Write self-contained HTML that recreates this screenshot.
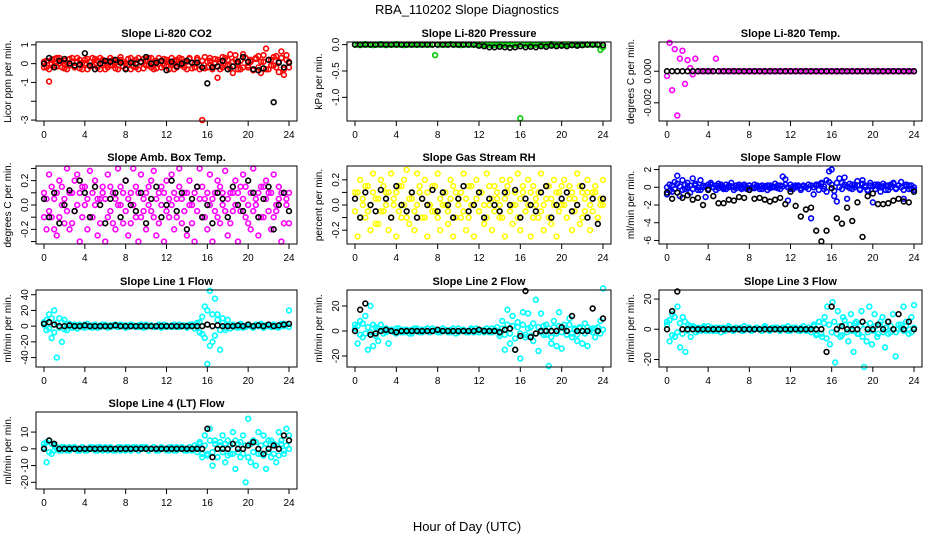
<!DOCTYPE html>
<html><head><meta charset="utf-8"><style>
html,body{margin:0;padding:0;background:#fff;}
svg{display:block;font-family:"Liberation Sans",Arial,sans-serif;}
</style></head><body>
<svg id="chart" width="936" height="540" viewBox="0 0 936 540">
<text x="467" y="14" text-anchor="middle" font-size="13">RBA_110202  Slope Diagnostics</text>
<text x="467" y="531" text-anchor="middle" font-size="13">Hour of Day (UTC)</text>
</svg>
<script>
// ---------- data ----------
const xTicks = [0,4,8,12,16,20,24];
const titles = ["Slope Li-820 CO2","Slope Li-820 Pressure","Slope Li-820 Temp.","Slope Amb. Box Temp.","Slope Gas Stream RH","Slope Sample Flow","Slope Line 1 Flow","Slope Line 2 Flow","Slope Line 3 Flow","Slope Line 4 (LT) Flow"];
const yTitles = ["Licor ppm per min.","kPa per min.","degrees C per min.","degrees C per min.","percent per min.","ml/min per min.","ml/min per min.","ml/min per min.","ml/min per min.","ml/min per min."];
const yTickVals = [[1,0,-1,-2,-3],[0,-0.5,-1.0],[0,-0.002],[0.3,0.2,0.1,0,-0.1,-0.2,-0.3],[0.2,0.1,0,-0.1,-0.2],[2,0,-2,-4,-6],[40,20,0,-20,-40],[20,0,-20],[20,0,-20],[10,0,-10,-20]];
const yTickLabels = [["1","0","-1","","-3"],["0.0","-0.5","-1.0"],["0.000","-0.002"],["","0.2","","0.0","","-0.2",""],["0.2","","0.0","","-0.2"],["2","0","-2","-4","-6"],["40","20","0","-20","-40"],["20","0","-20"],["20","0","-20"],["10","0","-10","-20"]];
const yMin = [-3.05,-1.45,-0.00315,-0.32,-0.31,-6.4,-52,-28.8,-25,-24];
const yMax = [1.15,0.05,0.00185,0.32,0.31,2.4,46,32.8,26,22];
const colors = ["#ff0000","#00cc00","#ff00ff","#ff00ff","#ffff00","#0000ff","#00ffff","#00ffff","#00ffff","#00ffff"];

const colCO2 = [0.1,-0.2,-0.95,0.2,-0.1,0.3,0.0,-0.2,0.15,-0.3,0.25,0.1,-0.15,0.3,-0.25,0.05,0.2,-0.3,0.1,-0.1,0.25,-0.2,0.3,0.0,-0.3,0.15,-0.1,0.2,-0.25,0.1,0.35,-0.15,0.0,0.25,-0.3,0.1,-0.2,0.3,0.05,-0.25,0.2,-0.1,0.3,-0.3,0.15,0.0,-0.2,0.25,-0.15,0.1,0.3,-0.3,0.2,-0.05,0.25,-0.2,0.1,0.3,-0.25,0.0,0.2,-0.3,-3.0,0.35,-0.2,0.15,-0.3,0.25,-0.75,0.1,-0.2,0.3,-0.1,0.5,-0.5,0.2,0.0,-0.3,0.5,0.3,-0.2,0.1,-0.35,0.25,0.4,-0.5,0.1,0.8,-0.3,0.2,-0.1,0.4,-0.45,0.65,-0.6,0.2,-0.2];
const colCO2b = [-0.2,0.15,-0.3,0.0,0.25,-0.15,0.3,0.1,-0.25,0.05,-0.1,0.3,-0.2,0.1,0.2,-0.3,0.0,0.25,-0.15,0.3,-0.05,0.15,-0.3,0.2,0.1,-0.2,0.3,-0.1,0.05,-0.3,0.2,0.1,-0.25,-0.05,0.3,-0.15,0.2,-0.3,0.1,0.25,-0.1,0.3,-0.2,0.05,-0.25,0.3,0.1,-0.1,0.2,-0.3,0.0,0.15,-0.2,0.3,-0.1,0.1,-0.3,0.25,0.05,-0.2,0.3,-0.1,0.15,-0.25,0.1,0.3,-0.15,0.0,0.2,-0.3,0.35,-0.1,0.2,-0.25,0.1,0.45,-0.3,0.15,-0.2,0.3,-0.1,0.2,-0.35,0.3,-0.2,0.1,0.45,-0.3,0.2,-0.1,0.35,-0.2,0.1,0.3,-0.3,0.45,0.1];
const colPres = [0,0,-0.01,0,0.01,0,0,-0.01,0,0,0.01,0,-0.01,0,0,0,0.01,0,0,-0.01,0,0,0,0,0,0,0,0,0,0,0,-0.2,0,0,0,0,0,0.01,0,0,0,-0.01,0,0,0,0,0,0,0,0,0,0,0,-0.01,0,0,0,0,0,0,0,0,0,0,-1.4,0,0,0,0,0,0,0,0,0,0,0,0.01,0,0,0,0,0,0,0,0,0,0,0,0,0,0,0,0,0,0,-0.1,-0.05];
const colTemp = [-0.0003,0.0018,-0.0012,0.0014,-0.0028,0.0008,0.0013,-0.0008,0.0007,0.0002,-0.0002,0.0008,0,0,0,0,0,0,0,0.0008,0,0,0,0,0,0,0,0,0,0,0,0,0,0,0,0,0,0,0,0,0,0,0,0,0,0,0,0,0,0,0,0,0,0,0,0,0,0,0,0,0,0,0,0,0,0,0,0,0,0,0,0,0,0,0,0,0,0,0,0,0,0,0,0,0,0,0,0,0,0,0,0,0,0,0,0,0];
const colAmb = [0.1,-0.2,0.25,-0.1,0.05,-0.25,0.2,0.0,-0.15,0.3,-0.2,0.1,-0.05,0.25,-0.3,0.15,0.0,-0.2,0.28,-0.1,0.2,-0.25,0.05,0.15,-0.3,0.25,-0.05,0.1,-0.2,0.3,0.0,-0.15,0.2,-0.25,0.1,0.3,-0.1,-0.3,0.25,0.05,-0.2,0.15,-0.05,0.28,-0.25,0.1,0.0,-0.3,0.2,-0.1,0.25,-0.2,0.05,0.3,-0.15,0.1,-0.25,0.2,0.0,-0.3,0.15,0.3,-0.1,0.05,-0.2,0.25,-0.3,0.1,0.2,-0.15,0.0,0.28,-0.25,0.1,-0.05,0.2,-0.3,0.15,0.25,-0.1,0.0,-0.2,0.3,0.05,-0.25,0.15,-0.1,0.2,0.1,-0.2,0.25,-0.05,0.15,-0.3,0.1,0.0,-0.15];
const colAmbB = [-0.1,0.05,-0.05,0.15,-0.2,0.1,-0.1,0.15,0.05,-0.05,0.1,-0.15,0.2,0.0,0.1,-0.1,0.15,0.05,-0.1,0.1,0.0,0.05,-0.15,0.1,0.05,-0.1,0.15,-0.15,0.05,0.0,0.15,0.1,-0.05,0.05,-0.15,0.0,0.15,0.1,-0.1,-0.05,0.1,0.0,0.2,-0.1,0.05,-0.15,0.15,0.1,-0.05,0.05,0.0,0.1,-0.1,0.15,0.05,-0.05,0.1,0.0,-0.15,0.1,-0.05,0.05,0.15,-0.1,0.1,0.0,0.05,-0.05,-0.1,0.15,0.1,-0.05,0.05,-0.15,0.1,0.0,0.1,-0.05,0.05,0.15,-0.15,0.1,-0.05,0.0,0.1,-0.1,0.15,0.05,-0.05,0.1,-0.1,0.0,0.05,0.1,-0.15,0.05,0.1];
const colRH = [0.1,-0.25,0.2,0.0,-0.1,0.15,-0.2,0.25,0.05,-0.15,0.2,-0.05,0.1,-0.2,0.25,0.0,-0.25,0.15,-0.1,0.2,0.28,-0.15,0.05,-0.2,0.25,0.1,-0.1,0.2,-0.25,0.0,0.15,-0.05,0.25,-0.2,0.1,0.0,-0.15,0.2,-0.25,0.1,0.05,-0.1,0.25,-0.2,0.15,0.0,-0.25,0.2,-0.05,0.1,-0.15,0.25,0.0,-0.2,0.15,0.05,-0.1,0.2,-0.25,0.1,0.2,-0.15,0.0,0.25,-0.2,0.1,-0.05,0.2,-0.25,0.15,0.0,-0.1,0.25,-0.2,0.05,0.15,-0.15,0.2,-0.25,0.1,0.0,0.2,-0.1,0.15,-0.2,0.05,0.25,-0.15,0.1,-0.05,0.2,-0.2,0.1,0.15,-0.1,0.0,0.2];
const colRHb = [-0.05,0.1,-0.1,0.05,0.15,-0.05,0.0,0.1,-0.15,0.05,-0.05,0.15,0.0,0.1,-0.1,0.05,0.1,-0.05,0.15,0.0,-0.1,0.05,0.1,-0.05,0.0,0.15,0.05,-0.1,0.1,0.0,-0.05,0.15,-0.1,0.05,0.0,0.1,-0.05,0.05,0.15,-0.1,0.0,0.1,-0.05,0.05,-0.1,0.15,0.0,0.05,-0.05,0.1,0.0,-0.1,0.15,0.05,-0.05,0.1,0.0,-0.1,0.05,0.15,-0.05,0.0,0.1,-0.1,0.05,0.15,-0.05,0.0,0.1,-0.1,0.05,0.1,-0.05,0.0,0.15,-0.1,0.05,0.0,0.1,-0.05,0.15,0.0,-0.1,0.05,0.1,-0.05,0.0,0.15,-0.1,0.05,0.1,0.0,-0.05,0.1,-0.1,0.05,0.0];
const colFlow = [-0.8,0.3,-0.5,0.6,1.3,-1.0,0.8,-0.2,0.5,-0.6,1.0,0.2,-0.3,0.8,0.0,-1.1,0.3,0.5,0.0,-0.3,0.4,0.1,-0.2,0.3,0.0,0.5,-0.3,0.2,0.1,-0.2,0.3,0.0,0.2,-0.1,0.3,0.0,-0.2,0.2,0.1,-0.3,0.2,0.0,0.4,-0.1,0.2,1.2,0.9,-1.5,0.3,-0.2,0.2,0.1,-0.3,0.2,0.0,0.3,-3.5,-0.8,0.2,0.3,0.5,-0.2,0.8,1.8,2.0,-1.0,-1.6,1.0,0.5,1.1,-1.3,0.4,-0.2,0.3,0.7,-0.3,0.8,0.2,-0.4,0.5,-1.7,0.3,0.1,-0.5,0.4,0.2,-0.3,0.3,0.5,-0.2,0.2,0.6,-1.3,0.3,-0.2,0.2,-0.3];
const colFlowB = [0.0,-0.4,0.2,-0.2,0.4,0.1,-0.3,0.3,0.0,0.2,-0.2,0.4,0.0,-0.3,0.2,0.1,-0.2,0.3,0.0,0.2,-0.1,0.3,0.0,-0.2,0.2,0.1,0.0,-0.1,0.3,0.0,0.1,-0.2,0.2,0.0,-0.1,0.2,0.1,-0.2,0.0,0.2,-0.1,0.1,0.0,0.2,-0.2,0.1,0.3,0.0,-0.2,0.1,0.0,0.2,-0.1,0.1,0.0,-0.2,0.2,0.0,0.3,-0.3,0.4,0.1,-0.5,0.6,0.3,-0.4,0.5,0.0,-0.2,0.3,0.1,-0.1,0.3,0.0,0.2,-0.2,0.4,0.0,-0.3,0.2,0.1,-0.2,0.3,0.0,0.1,-0.3,0.2,0.0,0.4,-0.1,0.2,0.0,-0.3,0.1,0.2,-0.2,0.0];
const colL1 = [5,-5,15,-15,20,-40,10,-20,8,-5,3,-2,2,-3,2,0,-2,3,0,-2,2,0,-1,2,0,-2,1,0,2,-1,0,1,-2,0,2,0,-1,1,0,-2,2,0,1,-1,0,2,-2,0,1,0,-1,2,0,-1,1,0,-2,2,0,1,-1,5,-10,25,-48,45,-20,35,15,-30,10,-5,8,-3,2,0,-2,3,0,-1,2,0,-2,1,0,3,-2,1,0,-1,2,0,-2,3,0,2,20];
const colL1b = [2,8,-3,10,-8,4,-2,5,-4,2,0,1,-1,0,1,-1,2,0,-1,1,0,-2,1,0,2,0,-1,1,0,-1,2,0,1,-1,0,1,0,-1,2,0,-1,0,1,0,-1,1,0,2,-1,0,1,0,-1,2,0,1,-1,0,2,-3,4,-8,12,-15,20,-25,15,-12,8,-5,4,-2,1,0,2,-1,0,1,-2,0,1,0,-1,2,0,1,-2,0,1,0,2,-1,0,1,3,2,-1];
const colL2 = [5,-10,8,-5,12,-15,20,-12,3,-8,5,-2,2,-10,1,0,-2,2,0,-1,1,0,-2,2,0,-1,1,0,2,-1,0,1,-1,0,2,0,-1,1,0,-2,2,0,1,-1,0,2,-1,0,1,0,-1,2,0,-1,1,0,-2,8,-15,17,-10,12,-15,7,-22,15,-5,14,3,-8,25,-16,14,-3,5,-28,-10,8,-12,15,-14,5,-3,10,-5,2,-8,3,-10,6,-12,0,2,-5,3,8,34];
const colL2b = [2,4,-3,6,-2,3,-1,5,-4,2,0,1,-1,0,1,-1,2,0,-1,1,0,-2,1,0,2,0,-1,1,0,-1,2,0,1,-1,0,1,0,-1,2,0,-1,0,1,0,-1,1,0,2,-1,0,1,0,-1,2,0,3,-4,2,-3,5,-2,4,-6,3,-2,5,-3,2,-4,6,-2,3,-1,4,-3,2,-5,3,-2,4,-1,2,-3,5,-2,1,-3,2,0,-2,3,1,-1,2,0,-2,1];
const colL3 = [5,-8,10,-5,15,-12,8,-15,3,-5,2,-2,1,-1,2,0,-1,1,0,-1,1,0,-1,1,0,-1,1,0,1,-1,0,1,-1,0,1,0,-1,1,0,-1,1,0,1,-1,0,1,-1,0,1,0,-1,1,0,-1,1,0,2,-3,5,-5,8,15,-10,18,-22,12,-5,8,3,-8,10,-15,5,-3,12,-25,-8,15,-10,10,-5,3,8,-12,5,-2,10,-18,0,3,15,5,-3,8,16];
const colL3b = [3,6,-4,8,-2,4,-3,5,-1,2,0,1,-1,0,1,-1,2,0,-1,1,0,-2,1,0,2,0,-1,1,0,-1,2,0,1,-1,0,1,0,-1,2,0,-1,0,1,0,-1,1,0,2,-1,0,1,0,-1,2,0,1,-2,3,-4,5,-3,4,-6,3,-2,5,-3,2,-4,6,-2,3,-1,4,-3,2,-5,3,-2,4,-1,2,-3,5,-2,1,-3,2,0,-2,3,1,-1,2,0,-2,1];
const colL4 = [3,-8,5,-3,2,0,-1,1,0,-1,1,0,1,-1,0,1,-1,0,1,0,-1,1,0,-1,1,0,1,-1,0,1,-1,0,1,0,-1,1,0,-1,1,0,1,-1,0,1,-1,0,1,0,-1,1,0,-1,1,0,1,-1,0,1,-1,0,1,3,-5,8,-3,12,-10,5,-5,2,8,-8,5,-3,10,-12,3,-5,8,-20,18,-8,5,-10,10,-3,8,-12,5,-5,3,-8,10,5,-3,12,8];
const colL4b = [1,4,-2,3,-1,1,0,-1,1,0,-1,0,1,0,-1,1,0,-1,0,1,0,-1,1,0,0,-1,1,0,-1,0,1,0,-1,1,0,0,1,-1,0,1,0,-1,0,1,0,-1,1,0,0,-1,1,0,-1,0,1,0,-1,1,0,2,-2,4,-3,2,-4,5,-2,3,-5,4,-2,3,-4,2,-3,5,-2,4,-3,2,-5,3,-2,4,-3,2,-4,3,-2,5,-3,2,-4,3,-1,2,0];
const colored = [[colCO2,colCO2b],[colPres],[colTemp],[colAmb,colAmbB],[colRH,colRHb],[colFlow,colFlowB],[colL1,colL1b],[colL2,colL2b],[colL3,colL3b],[colL4,colL4b]];

const blkCO2 = [0.0,0.3,-0.2,0.15,0.25,0.0,-0.1,-0.05,0.55,-0.1,-0.3,0.0,0.15,0.1,0.2,0.05,-0.3,0.05,0.0,0.1,0.35,0.0,0.05,0.15,-0.35,0.1,-0.15,0.0,0.15,0.05,0.05,-0.2,-1.05,-0.2,-0.15,0.15,-0.3,-0.15,0.1,0.35,0.1,-0.3,-0.35,-0.25,0.2,-2.05,0.05,-0.2,0.05];
const blkPres = [0,0,0,0,0,0,0,0,0,0,0,0,0,0,0,0,0,0,0,0,0,0,0,0,-0.02,-0.03,-0.05,-0.05,-0.04,-0.05,-0.06,-0.05,-0.03,-0.05,-0.04,-0.05,-0.03,-0.04,-0.02,-0.03,-0.02,-0.03,-0.01,-0.02,-0.01,0,0,0,-0.01];
const blkTemp = [0,0,0,0,0,0,0,0,0,0,0,0,0,0,0,0,0,0,0,0,0,0,0,0,0,0,0,0,0,0,0,0,0,0,0,0,0,0,0,0,0,0,0,0,0,0,0,0,0];
const blkAmb = [0.05,-0.1,0.1,-0.15,0.0,0.12,-0.05,0.2,0.1,-0.1,0.15,0.0,-0.15,0.05,0.1,-0.1,0.2,0.0,-0.05,0.1,-0.15,0.05,0.15,-0.1,0.0,0.2,-0.05,0.1,-0.2,0.05,0.15,-0.1,0.0,-0.15,0.1,0.05,-0.1,0.15,0.0,-0.05,0.2,0.1,-0.1,0.05,0.15,-0.2,0.0,0.1,-0.05];
const blkRH = [0.05,-0.1,0.1,0.0,-0.05,0.12,0.05,-0.1,0.15,0.0,-0.05,0.1,-0.1,0.05,0.0,0.12,-0.05,0.1,0.0,-0.1,0.05,0.15,-0.05,0.0,0.1,-0.1,0.05,0.0,-0.05,0.1,0.0,0.12,-0.1,0.05,0.0,-0.05,0.1,0.15,-0.1,0.0,0.05,0.1,-0.05,0.0,0.15,-0.1,0.05,-0.15,0.05];
const blkFlow = [-0.6,-1.3,-0.6,-1.2,-0.9,-1.4,-1.2,-2.0,-0.3,-1.0,-1.8,-1.8,-1.4,-1.5,-1.1,-1.2,-0.3,-1.3,-1.2,-1.4,-1.6,-1.4,-1.2,-1.9,-0.5,-2.1,-3.3,-2.5,-2.3,-4.9,-6.1,-4.9,-0.1,-3.5,-4.1,-2.3,-3.8,-1.7,-5.6,-1.0,-0.7,-1.9,-1.9,-1.8,-1.5,-1.3,-1.6,-1.7,-0.5];
const blkL1 = [3,5,2,0,0,1,0,0,1,0,0,0,0,0,1,0,0,0,0,0,0,0,0,0,0,0,0,0,0,0,0,0,2,0,1,0,0,0,1,0,2,0,1,0,2,0,1,2,3];
const blkL2 = [0,17,22,-3,-2,0,1,0,-1,0,0,0,0,0,0,0,1,0,0,0,0,0,0,0,1,0,0,0,-1,1,2,-15,-4,32,-5,-2,0,0,0,0,3,0,12,0,0,0,18,0,10];
const blkL3 = [0,12,25,0,0,0,0,0,0,0,0,0,0,0,0,0,0,0,0,0,0,0,0,0,0,0,0,0,0,0,0,-15,15,0,2,0,0,0,5,0,0,3,0,5,0,10,0,5,0];
const blkL4 = [0,5,3,0,0,0,0,0,0,0,0,0,0,0,0,0,0,0,0,0,0,0,0,0,0,0,0,0,0,0,0,0,12,-5,0,0,0,3,0,0,2,4,0,-3,0,2,0,8,5];
const black = [blkCO2,blkPres,blkTemp,blkAmb,blkRH,blkFlow,blkL1,blkL2,blkL3,blkL4];

// ---------- layout ----------
const colX = [[36,297],[347,611],[659,922]];
const rowY = [[42,121],[166,244],[290,367],[412,489]];
const svg = document.getElementById('chart');
const NS = 'http://www.w3.org/2000/svg';
function mk(tag, attrs, parent){ const e=document.createElementNS(NS,tag); for(const k in attrs) e.setAttribute(k,attrs[k]); (parent||svg).appendChild(e); return e; }

titles.forEach((t,p)=>{
  const [x0,x1]=colX[p%3], [y0,y1]=rowY[Math.floor(p/3)];
  const g = mk('g',{});
  
  
  const xl = x0+8, xr = x1-8;
  const xs = h => xl + (xr-xl)*h/24;
  const ys = v => y1 - (y1-y0)*(v-yMin[p])/(yMax[p]-yMin[p]);
  const tt = mk('text',{x:(x0+x1)/2,y:y0-5,'text-anchor':'middle','font-size':11,'font-weight':'bold'},g); tt.textContent=t;
  
  
  // colored points
  colored[p].forEach(cv=>{
    cv.forEach((v,i)=>{
      const c = mk('circle',{cx:xs(i*24/(cv.length-1)),cy:ys(v),r:2.4,fill:'none',stroke:colors[p],'stroke-width':1.6},g);
      
      
    });
  });
  const bv = black[p];
  bv.forEach((v,i)=>{
    const c = mk('circle',{cx:xs(i*24/(bv.length-1)),cy:ys(v),r:2.4,fill:'none',stroke:'#000','stroke-width':1.6},g);
    
    
  });
  const box = mk('rect',{x:x0,y:y0,width:x1-x0,height:y1-y0,fill:'none',stroke:'#000','stroke-width':1},g);
  
  
  // x axis
  mk('line',{x1:xs(0),x2:xs(24),y1:y1,y2:y1,stroke:'#000'},g);
  xTicks.forEach(h=>{
    mk('line',{x1:xs(h),x2:xs(h),y1:y1,y2:y1+5,stroke:'#000'},g);
    const tx = mk('text',{x:xs(h),y:y1+17,'text-anchor':'middle','font-size':10},g); tx.textContent=h;
    
    
  });
  // y axis
  const tv = yTickVals[p];
  mk('line',{x1:x0,x2:x0,y1:ys(Math.max(...tv)),y2:ys(Math.min(...tv)),stroke:'#000'},g);
  tv.forEach((v,i)=>{
    mk('line',{x1:x0-5,x2:x0,y1:ys(v),y2:ys(v),stroke:'#000'},g);
    const lab = yTickLabels[p][i];
    if(lab){
      const ty = mk('text',{x:0,y:0,'text-anchor':'middle','font-size':10,transform:`translate(${x0-8},${ys(v)}) rotate(-90)`},g); ty.textContent=lab;
      
      
    }
  });
  const yt = mk('text',{x:0,y:0,'text-anchor':'middle','font-size':10,transform:`translate(${x0-25},${(y0+y1)/2}) rotate(-90)`},g); yt.textContent=yTitles[p];
  
  
});
</script>
</body></html>
